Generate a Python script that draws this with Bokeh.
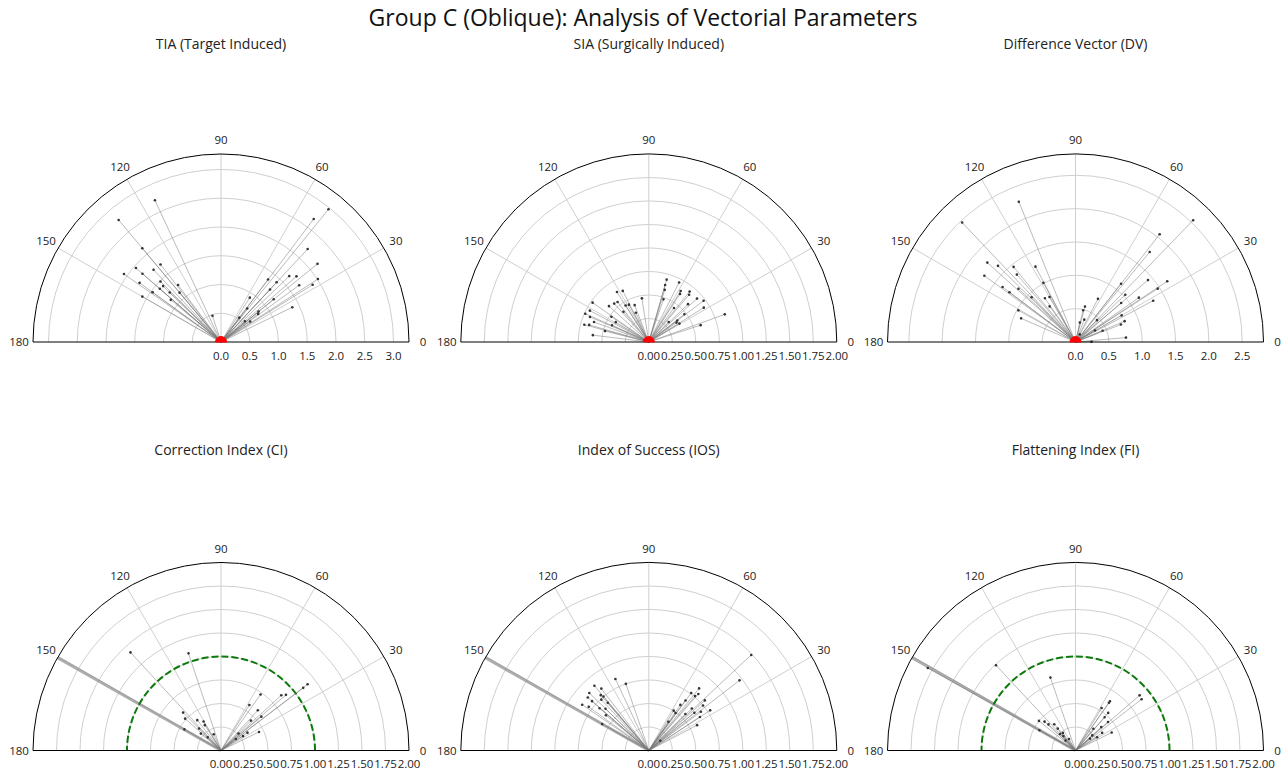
import numpy as np
from bokeh.plotting import figure
from bokeh.layouts import column, row
from bokeh.models import Range1d
from bokeh.core.properties import value
from bokeh.embed import file_html
from bokeh.resources import INLINE

FONT = "Open Sans"

# ---------------- data ----------------
main_title = "Group C (Oblique): Analysis of Vectorial Parameters"
panel_titles = ["TIA (Target Induced)", "SIA (Surgically Induced)", "Difference Vector (DV)",
                "Correction Index (CI)", "Index of Success (IOS)", "Flattening Index (FI)"]
theta_ticks = [0, 30, 60, 90, 120, 150, 180]
theta_labels = ["0", "30", "60", "90", "120", "150", "180"]

tia_magnitude = [2.72, 2.77, 2.13, 1.96, 1.71, 1.72, 2.06, 1.81, 1.75, 1.49, 1.40, 1.24, 1.47, 1.41,
                 1.24, 1.12, 1.58, 1.14, 0.48,
                 2.97, 2.68, 2.21, 2.16, 2.01, 1.74, 1.65, 1.36, 1.42, 1.68, 1.88, 1.25, 1.18, 1.38,
                 0.92, 0.74, 0.84, 0.81, 0.53, 0.55, 0.62]
tia_axis = [115, 130, 130, 139, 128, 133, 145, 139, 144, 135, 136, 127, 144, 139,
            136, 130, 150, 140, 108,
            51, 53, 47, 39, 33, 41, 44, 53, 47, 36, 32, 47, 39, 26,
            57, 52, 39, 37, 53, 41, 35]

sia_magnitude = [0.73, 0.74, 0.71, 0.68, 0.71, 0.66, 0.60, 0.62, 0.48, 0.57, 0.55, 0.63, 0.61, 0.54,
                 0.46, 0.45, 0.42, 0.34, 0.48, 0.41, 0.43, 0.42, 0.47,
                 0.69, 0.63, 0.58, 0.48, 0.71, 0.64, 0.61, 0.69, 0.66, 0.73, 0.69, 0.58, 0.69, 0.45,
                 0.48, 0.38, 0.38, 0.30, 0.36, 0.86, 0.58]
sia_axis = [145, 156, 152, 157, 165, 164, 173, 160, 166, 138, 132, 122.5, 117, 128,
            122.5, 118, 111, 114, 146, 149, 155.5, 130, 99,
            74, 74, 73, 71, 63, 58, 57, 51, 49.5, 37, 42, 44, 32, 53.5,
            38, 37, 31, 45, 35, 20, 18]

dv_magnitude = [2.27, 2.47, 1.78, 1.63, 1.46, 1.28, 1.69, 1.34, 1.37, 1.17, 1.24, 1.01, 0.94, 0.80,
                0.78, 0.66, 0.98, 0.89,
                2.54, 2.05, 1.75, 1.65, 1.43, 1.47, 1.11, 1.03, 1.16, 1.32, 0.90, 0.73, 0.80, 0.80,
                0.73, 0.55, 0.49, 0.30, 0.36, 0.46, 0.44, 0.34, 0.76, 0.24, 0.13]
dv_axis = [112, 133.5, 138, 135.5, 129.5, 118, 144, 131, 143, 137, 143, 118.5, 134.5, 125,
           120, 126, 151, 156.5,
           46, 52, 50.5, 33.5, 40.5, 33, 52, 43.5, 35, 28, 40.5, 62.5, 30, 23,
           21, 75, 76.5, 77.5, 68.5, 45.5, 22.5, 30.5, 5, 1, 61]

ci_value = [1.42, 1.09, 0.57, 0.51, 0.41, 0.36, 0.32, 0.19, 0.45, 0.28, 0.20, 0.33,
            1.16, 1.10, 0.91, 0.87, 0.73, 0.57, 0.58, 0.56, 0.45, 0.45, 0.34, 0.26, 0.28, 0.20]
ci_axis = [132.7, 108.5, 135, 138.4, 128, 121, 122.6, 114, 150, 140, 135, 135,
           37.4, 37.3, 40.6, 42.5, 54.8, 58, 47.5, 40, 45, 26, 34, 44, 33, 38]

ios_value = [0.84, 0.75, 0.90, 0.83, 0.88, 0.86, 0.80, 0.86, 0.79, 0.78, 0.75, 0.74, 0.67, 0.69,
             0.64, 0.59, 0.57,
             1.49, 1.22, 0.85, 0.76, 0.80, 0.76, 0.80, 0.66, 0.59, 0.75, 0.64, 0.78, 0.50, 0.63,
             0.69, 0.65, 0.49, 0.37, 0.58, 0.16, 0.55]
ios_axis = [115, 109, 130, 127.5, 136, 139, 139, 145.5, 144, 131, 130, 133, 130.6, 139.4,
            136, 140.6, 150.5,
            43, 37.7, 51, 53.6, 48.8, 49.6, 41.8, 53.7, 55.3, 39.7, 44.3, 33.2, 58, 39.7,
            36.6, 33.2, 54.5, 55.7, 27.7, 40.6, 45]

fi_value = [1.80, 1.24, 0.82, 0.50, 0.45, 0.44, 0.40, 0.36, 0.30, 0.24, 0.23, 0.15, 0.14, 0.20,
            0.90, 0.89, 0.64, 0.62, 0.53, 0.53, 0.46, 0.47, 0.43, 0.37, 0.34, 0.30, 0.24, 0.20, 0.27]
fi_axis = [150.8, 133, 109, 141, 137, 150.7, 136, 129, 129, 133, 125.5, 135, 119.5, 130,
           40.7, 37.8, 55, 55, 58.4, 49, 41.3, 48.7, 26.4, 42.3, 33.5, 50.7, 42, 39.3, 31.6]

radial_limits = [3.27, 2.0, 2.82, 2.0, 2.0, 2.0]
ticks_tia = [0.0, 0.5, 1.0, 1.5, 2.0, 2.5, 3.0]
labels_tia = ["0.0", "0.5", "1.0", "1.5", "2.0", "2.5", "3.0"]
ticks_dv = [0.0, 0.5, 1.0, 1.5, 2.0, 2.5]
labels_dv = ["0.0", "0.5", "1.0", "1.5", "2.0", "2.5"]
ticks_quarter = [0.0, 0.25, 0.5, 0.75, 1.0, 1.25, 1.5, 1.75, 2.0]
labels_quarter = ["0.00", "0.25", "0.50", "0.75", "1.00", "1.25", "1.50", "1.75", "2.00"]

index_target = 1.0          # ideal value of the indices
reference_axis = 150.4      # reference meridian drawn on the index plots

# ---------------- drawing ----------------
R_PX = 188.0
GRID = "#cfcfcf"
TXT = "#222222"


def panel(title, mags, angs, rlim, rticks, rlabels, W, H, cx, cy, title_y,
          origin_marker=False, target=None, ref_axis=None):
    s = R_PX / rlim
    p = figure(width=W, height=H,
               x_range=Range1d(-cx / s, (W - cx) / s),
               y_range=Range1d(-(H - cy) / s, cy / s),
               output_backend="svg", toolbar_location=None, min_border=0,
               x_axis_type=None, y_axis_type=None)
    p.grid.visible = False
    p.outline_line_color = None
    p.background_fill_color = "white"
    p.border_fill_color = "white"

    rings = [r for r in rticks if 0 < r < rlim - 1e-9]
    p.arc(x=0, y=0, radius=rings, start_angle=0, end_angle=np.pi,
          line_color=GRID, line_width=1)
    sp = np.deg2rad([30, 60, 90, 120, 150])
    p.segment(x0=0, y0=0, x1=rlim * np.cos(sp), y1=rlim * np.sin(sp),
              line_color=GRID, line_width=1)

    if ref_axis is not None:
        a = np.deg2rad(ref_axis)
        p.segment(x0=0, y0=0, x1=rlim * np.cos(a), y1=rlim * np.sin(a),
                  line_color="#8a8a8a", line_alpha=0.7, line_width=3)
    if target is not None:
        p.arc(x=0, y=0, radius=target, start_angle=0, end_angle=np.pi,
              line_color="#0b7a0b", line_width=2, line_dash="7 3")

    th = np.deg2rad(np.array(angs, dtype=float))
    m = np.array(mags, dtype=float)
    xs, ys = m * np.cos(th), m * np.sin(th)
    p.segment(x0=0, y0=0, x1=xs, y1=ys, line_color="#777777", line_alpha=0.5, line_width=1)
    p.scatter(xs, ys, size=2.6, fill_color="#333333", line_color=None)

    p.arc(x=0, y=0, radius=rlim, start_angle=0, end_angle=np.pi, line_color="black", line_width=1)
    p.segment(x0=-rlim, y0=0, x1=rlim, y1=0, line_color="black", line_width=1)

    if origin_marker:
        p.wedge(x=0, y=0, radius=5.5, radius_units="screen", start_angle=0, end_angle=np.pi,
                fill_color="red", line_color="red")

    lr = 202.0 / s
    ta = np.deg2rad(theta_ticks)
    p.text(x=lr * np.cos(ta), y=lr * np.sin(ta), text=theta_labels,
           text_font=value(FONT), text_font_size="11.5px", text_color=TXT,
           text_align="center", text_baseline="middle")
    p.text(x=rticks, y=[-13.5 / s] * len(rticks), text=rlabels,
           text_font=value(FONT), text_font_size="11.5px", text_color=TXT,
           text_align="center", text_baseline="middle")
    p.text(x=[0], y=[(cy - title_y) / s], text=[title],
           text_font=value(FONT), text_font_size="14px", text_color=TXT,
           text_align="center", text_baseline="middle")
    return p


widths = [430, 428, 426]
cxs = [220.5, 218.3, 217.0]
TITLE_H, TOP_H, BOT_H = 33, 397, 341

t = figure(width=sum(widths), height=TITLE_H, x_range=Range1d(0, sum(widths)),
           y_range=Range1d(TITLE_H, 0),
           output_backend="svg", toolbar_location=None, min_border=0,
           x_axis_type=None, y_axis_type=None)
t.grid.visible = False
t.outline_line_color = None
t.text(x=[642.5], y=[16.5], text=[main_title], text_font=value(FONT), text_font_size="23px",
       text_color="#111111", text_align="center", text_baseline="middle")

p1 = panel(panel_titles[0], tia_magnitude, tia_axis, radial_limits[0], ticks_tia, labels_tia,
           widths[0], TOP_H, cxs[0], 308.5, 9.5, origin_marker=True)
p2 = panel(panel_titles[1], sia_magnitude, sia_axis, radial_limits[1], ticks_quarter, labels_quarter,
           widths[1], TOP_H, cxs[1], 308.5, 9.5, origin_marker=True)
p3 = panel(panel_titles[2], dv_magnitude, dv_axis, radial_limits[2], ticks_dv, labels_dv,
           widths[2], TOP_H, cxs[2], 308.5, 9.5, origin_marker=True)
p4 = panel(panel_titles[3], ci_value, ci_axis, radial_limits[3], ticks_quarter, labels_quarter,
           widths[0], BOT_H, cxs[0], 320, 19, target=index_target, ref_axis=reference_axis)
p5 = panel(panel_titles[4], ios_value, ios_axis, radial_limits[4], ticks_quarter, labels_quarter,
           widths[1], BOT_H, cxs[1], 320, 19, ref_axis=reference_axis)
p6 = panel(panel_titles[5], fi_value, fi_axis, radial_limits[5], ticks_quarter, labels_quarter,
           widths[2], BOT_H, cxs[2], 320, 19, target=index_target, ref_axis=reference_axis)

layout = column(t, row(p1, p2, p3), row(p4, p5, p6), spacing=0)
open("out.html", "w").write(file_html(layout, INLINE))
